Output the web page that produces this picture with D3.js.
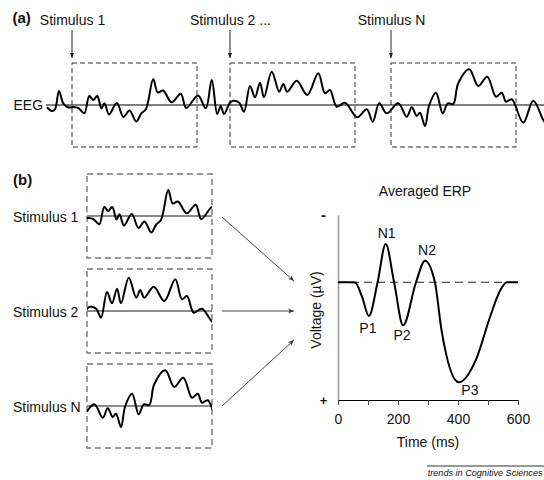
<!DOCTYPE html>
<html><head><meta charset="utf-8">
<script src="https://cdn.jsdelivr.net/npm/d3@7"></script>
<style>
body{margin:0;background:#fff}
text{font-family:"Liberation Sans",Arial,Helvetica,sans-serif;fill:#111}
</style>
</head><body>
<svg id="c" width="544" height="480"></svg>
<script>
// ---- DATA ----
// continuous EEG (ms, µV, positive up)
const eegTime  = [0,19,32,48,65,85,105,125,149,169,185,201,218,230,248,279,306,330,357,377,396,425,443,464,499,535,557,604,635,659,681,695,708,732,745,769,788,812,832,852,868,899,929,945,961,999,1041,1085,1112,1132,1159,1192,1241,1279,1303,1329,1359,1405,1439,1459,1479,1492,1512,1529,1556,1583,1603,1625,1645,1689,1725,1761,1796,1819,1836,1859,1905,1945,1985,2000];
const eegValue = [-2.3,-6,-4.3,14,1.7,-2.3,-2,-3,-8.3,9,5,9,-3.5,1.7,-9.5,2,-12,-5.5,-16.5,-8.5,-4,26,12.5,14.5,2.7,11.3,-3,9.5,-3.3,25,-9,-1,-9,2.3,4.3,2.3,-6.7,19,7.7,22.3,7.7,33.3,13.3,21,13.3,24.3,10,31.7,11.7,15,-1.7,2.3,-12.3,-4.3,-16.7,1.7,-8.3,1.7,-11.7,-2.3,-11,-7.7,-21,0,12.3,-8.3,1.7,1,21.7,35.7,19,28.3,8.3,12.3,3.3,5.7,-17.7,4.3,-15,-20];
const stimulusLabelsA = ["Stimulus 1", "Stimulus 2 ...", "Stimulus N"];
const stimulusLabelsB = ["Stimulus 1", "Stimulus 2", "Stimulus N"];
const stimulusOnsets = [100, 732, 1376];
const epochLength = 500;

// averaged ERP (ms, µV, negative up)
const erpTime  = [0,40,57,80,103,132,159,187,217,260,290,323,345,403,460,507,540,563,600];
const erpValue = [0,0,0.02,0.86,2.0,0,-2.28,0,2.56,0,-1.28,0,2.84,5.95,4.6,2.05,0.5,0,0];
const erpTicks = [0,100,200,300,400,500,600];
const erpTickLabels = ["0","","200","","400","","600"];
const peakNames  = ["P1","N1","P2","N2","P3"];
const peakTimes  = [103,159,217,290,403];
const peakValues = [2.0,-2.28,2.56,-1.28,5.95];

// ---- DRAW ----
const svg = d3.select("#c");
const eeg = eegTime.map((t,i)=>({t, v:eegValue[i]}));
const font = "Liberation Sans, Arial, sans-serif";
const eegCurve = d3.curveCatmullRom.alpha(0.5);

const defs = svg.append("defs");
defs.append("marker").attr("id","ahA").attr("viewBox","0 0 10 10").attr("refX",10).attr("refY",5)
  .attr("markerWidth",5).attr("markerHeight",7).attr("markerUnits","userSpaceOnUse").attr("orient","auto")
  .append("path").attr("d","M0,1 L10,5 L0,9 Z").attr("fill","#222");
defs.append("marker").attr("id","ahB").attr("viewBox","0 0 10 10").attr("refX",10).attr("refY",5)
  .attr("markerWidth",8).attr("markerHeight",6).attr("markerUnits","userSpaceOnUse").attr("orient","auto")
  .append("path").attr("d","M0,1 L10,5 L0,9 L3,5 Z").attr("fill","#333");

// Panel (a)
const xA = d3.scaleLinear().domain([0,2000]).range([47,547]);
const yA = d3.scaleLinear().domain([-42,42]).range([147,63]);

svg.append("text").attr("x",12.5).attr("y",23).attr("font-size",15).attr("font-weight","bold").text("(a)");
svg.append("text").attr("x",13.5).attr("y",110).attr("font-size",14).text("EEG");

svg.append("line").attr("x1",46).attr("x2",544).attr("y1",yA(0)).attr("y2",yA(0))
  .attr("stroke","#000").attr("stroke-width",1.1);

stimulusOnsets.forEach((on,i)=>{
  const x0 = xA(on), x1 = xA(on+epochLength);
  svg.append("rect").attr("x",x0).attr("y",yA(42)).attr("width",x1-x0).attr("height",yA(-42)-yA(42))
    .attr("fill","none").attr("stroke","#333").attr("stroke-width",1).attr("stroke-dasharray","5,3");
  svg.append("line").attr("x1",x0).attr("x2",x0).attr("y1",30).attr("y2",58)
    .attr("stroke","#222").attr("stroke-width",1).attr("marker-end","url(#ahA)");
  svg.append("text").attr("x",x0+0.5).attr("y",25).attr("font-size",14).attr("text-anchor","middle").text(stimulusLabelsA[i]);
});

const lineA = d3.line().x(d=>xA(d.t)).y(d=>yA(d.v)).curve(eegCurve);
svg.append("path").datum(eeg).attr("d",lineA).attr("fill","none").attr("stroke","#000").attr("stroke-width",2).attr("stroke-linejoin","round");

// Panel (b)
svg.append("text").attr("x",13).attr("y",185).attr("font-size",15).attr("font-weight","bold").text("(b)");
const bBaselines = [216,311,406];
const arrowEnds = [[294,281],[294,311],[294,340]];
stimulusOnsets.forEach((on,i)=>{
  const base = bBaselines[i];
  const xB = d3.scaleLinear().domain([on,on+epochLength]).range([87,212]);
  const yB = d3.scaleLinear().domain([-42,42]).range([base+42, base-42]);
  defs.append("clipPath").attr("id","clip"+i).append("rect")
    .attr("x",87).attr("y",yB(42)-10).attr("width",125).attr("height",104);
  svg.append("rect").attr("x",87).attr("y",yB(42)).attr("width",125).attr("height",84)
    .attr("fill","none").attr("stroke","#777").attr("stroke-width",1.4).attr("stroke-dasharray","6,4");
  svg.append("line").attr("x1",87).attr("x2",212).attr("y1",base).attr("y2",base)
    .attr("stroke","#666").attr("stroke-width",1.4);
  const lineB = d3.line().x(d=>xB(d.t)).y(d=>yB(d.v)).curve(eegCurve);
  svg.append("path").datum(eeg).attr("d",lineB).attr("clip-path","url(#clip"+i+")")
    .attr("fill","none").attr("stroke","#000").attr("stroke-width",2).attr("stroke-linejoin","round");
  svg.append("text").attr("x",13).attr("y",base+5.5).attr("font-size",14).text(stimulusLabelsB[i]);
  svg.append("line").attr("x1",222).attr("y1",base+ (i===0?1:0)).attr("x2",arrowEnds[i][0]).attr("y2",arrowEnds[i][1])
    .attr("stroke","#444").attr("stroke-width",1).attr("marker-end","url(#ahB)");
});

// ERP plot
const xE = d3.scaleLinear().domain([0,600]).range([338,518]);
const yE = d3.scaleLinear().domain([-4,7]).range([215,400]);

svg.append("text").attr("x",425).attr("y",196).attr("font-size",14).attr("text-anchor","middle").text("Averaged ERP");

svg.append("line").attr("x1",xE(0)).attr("x2",xE(600)).attr("y1",yE(0)).attr("y2",yE(0))
  .attr("stroke","#222").attr("stroke-width",1).attr("stroke-dasharray","8,5");

const yAxis = d3.axisLeft(yE).tickValues([]).tickSizeOuter(0);
svg.append("g").attr("transform",`translate(${xE(0)},0)`).call(yAxis)
  .call(g=>g.select(".domain").attr("stroke","#999").attr("stroke-width",1.6));

const xAxis = d3.axisBottom(xE).tickValues(erpTicks).tickFormat((d,i)=>erpTickLabels[i]).tickSize(5).tickSizeOuter(0).tickPadding(9);
svg.append("g").attr("transform",`translate(0,${yE(7)})`).call(xAxis)
  .call(g=>g.select(".domain").attr("stroke","#000").attr("stroke-width",1.2))
  .call(g=>g.selectAll(".tick line").attr("stroke","#444"))
  .call(g=>g.selectAll(".tick text").attr("font-size",14).attr("font-family",font).attr("fill","#111"));

svg.append("text").attr("x",428).attr("y",447).attr("font-size",14).attr("text-anchor","middle").text("Time (ms)");
svg.append("text").attr("transform","translate(321,310) rotate(-90)").attr("font-size",14).attr("text-anchor","middle").text("Voltage (\u00b5V)");
svg.append("text").attr("x",323.5).attr("y",219.5).attr("font-size",15).attr("font-weight","bold").attr("text-anchor","middle").text("-");
svg.append("text").attr("x",323.5).attr("y",404.5).attr("font-size",13).attr("font-weight","bold").attr("text-anchor","middle").text("+");

const erp = erpTime.map((t,i)=>({t, v:erpValue[i]}));
const lineE = d3.line().x(d=>xE(d.t)).y(d=>yE(d.v)).curve(d3.curveMonotoneX);
svg.append("path").datum(erp).attr("d",lineE).attr("fill","none").attr("stroke","#000").attr("stroke-width",2);

const labelOff = {P1:[-1,17],N1:[1,-6],P2:[-1,15],N2:[2,-6],P3:[11,13]};
peakNames.forEach((n,i)=>{
  svg.append("text").attr("x",xE(peakTimes[i])+labelOff[n][0]).attr("y",yE(peakValues[i])+labelOff[n][1])
    .attr("font-size",14).attr("text-anchor","middle").text(n);
});

// footer
svg.append("line").attr("x1",427).attr("x2",544).attr("y1",466).attr("y2",466).attr("stroke","#333").attr("stroke-width",1);
svg.append("text").attr("x",542.5).attr("y",476).attr("font-size",9.1).attr("font-style","italic")
  .attr("text-anchor","end").attr("fill","#333").text("trends in Cognitive Sciences");
</script>
</body></html>
